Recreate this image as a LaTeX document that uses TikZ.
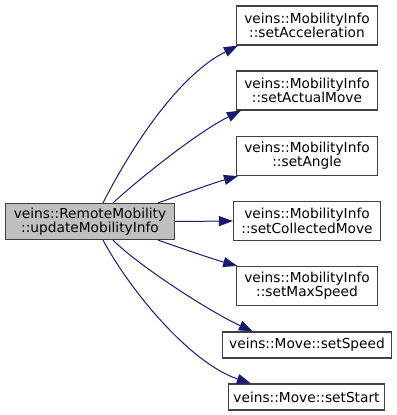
\documentclass[tikz,border=0pt]{standalone}
\usepackage{fontspec}
\setmainfont{DejaVu Sans}
\usetikzlibrary{arrows.meta}

\definecolor{edgeblue}{HTML}{191970}
\definecolor{boxline}{HTML}{404040}
\definecolor{callerfill}{HTML}{BFBFBF}

\begin{document}
\begin{tikzpicture}[x=0.75pt, y=-0.75pt, font=\fontsize{10.3}{10.8}\selectfont,
fn/.style={draw=boxline,line width=0.9pt,fill=white,align=center,inner sep=0pt,minimum width=105.75pt,minimum height=29.25pt},
caller/.style={fn,fill=callerfill,minimum width=126.75pt,minimum height=27pt},
call/.style={draw=edgeblue,line width=0.75pt,-{Triangle[length=10.5pt,width=7.5pt]}}]
\useasboundingbox (0,0) rectangle (397,415);
% caller
\node[caller] (update) at (90,221.5) {veins::RemoteMobility\\::updateMobilityInfo};
% callees
\node[fn] (accel) at (307,25.5) {veins::MobilityInfo\\::setAcceleration};
\node[fn] (actual) at (307,90.5) {veins::MobilityInfo\\::setActualMove};
\node[fn] (angle) at (307,156) {veins::MobilityInfo\\::setAngle};
\node[fn,minimum width=110.25pt] (collected) at (307,221) {veins::MobilityInfo\\::setCollectedMove};
\node[fn] (maxspeed) at (307,286) {veins::MobilityInfo\\::setMaxSpeed};
\node[fn,minimum width=126.75pt,minimum height=19.5pt] (speed) at (307,345) {veins::Move::setSpeed};
\node[fn,minimum width=117pt,minimum height=19.5pt] (start) at (306.5,397) {veins::Move::setStart};
% calls
\draw[call] ([xshift=9.75pt]update.north) .. controls +(28,-55) and +(-60,30) .. ([xshift=1.5pt]accel.south west);
\draw[call] ([xshift=17.25pt]update.north) .. controls +(26,-24) and +(-44,22) .. ([xshift=3.75pt]actual.south west);
\draw[call] ([xshift=51pt]update.north) .. controls +(20,-7) and +(-25,7) .. ([xshift=1.5pt]angle.south west);
\draw[call] (update.east) -- (collected.west);
\draw[call] ([xshift=51pt]update.south) .. controls +(20,7) and +(-25,-7) .. ([xshift=1pt]maxspeed.north west);
\draw[call] ([xshift=17.25pt]update.south) .. controls +(26,26) and +(-42,-19) .. ([xshift=23.25pt]speed.north west);
\draw[call] ([xshift=9.75pt]update.south) .. controls +(28,52) and +(-60,-20) .. ([xshift=17.25pt]start.north west);
\end{tikzpicture}
\end{document}
